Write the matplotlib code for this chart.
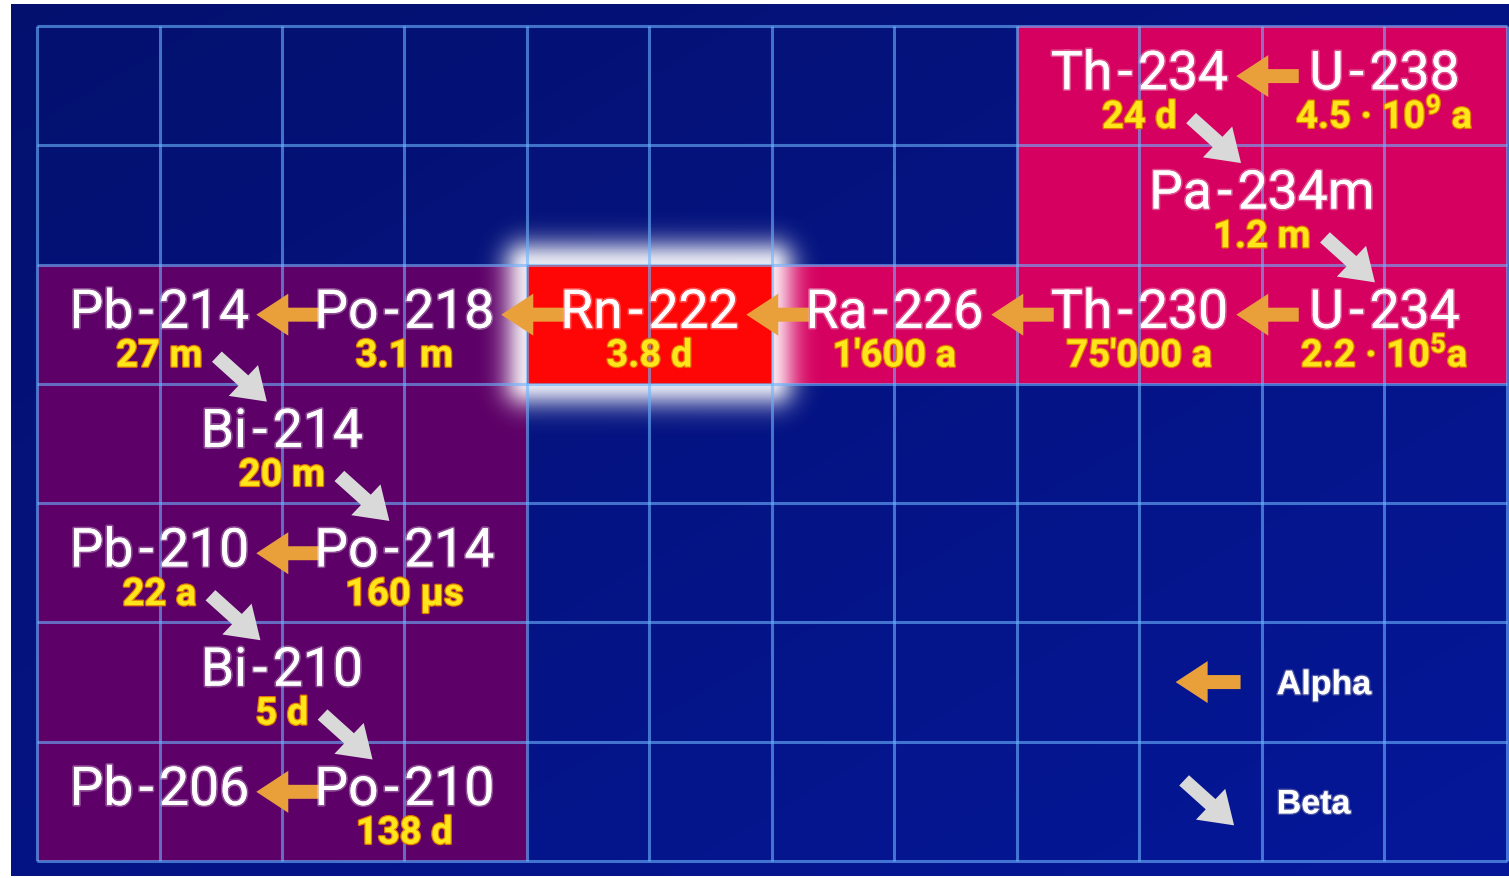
import numpy as np
import matplotlib.pyplot as plt
import matplotlib.patches as mpatches
import matplotlib.patheffects as pe

plt.rcParams['mathtext.default'] = 'regular'

# szereg uranowo-radowy: nuklid, czas polowicznego rozpadu, linia siatki (Z - 81), wiersz
nuklidy = ['U-238', 'Th-234', 'Pa-234m', 'U-234', 'Th-230', 'Ra-226', 'Rn-222',
           'Po-218', 'Pb-214', 'Bi-214', 'Po-214', 'Pb-210', 'Bi-210', 'Po-210', 'Pb-206']
polowice = ['4.5 · 10$^9$ a', '24 d', '1.2 m', '2.2 · 10$^5$a', "75'000 a", "1'600 a", '3.8 d',
            '3.1 m', '27 m', '20 m', '160 µs', '22 a', '5 d', '138 d', '']
kolumna = [11, 9, 10, 11, 9, 7, 5, 3, 1, 2, 3, 1, 2, 3, 1]
wiersz = [0, 0, 1, 2, 2, 2, 2, 2, 2, 3, 4, 4, 5, 6, 6]

legenda = ['Alpha', 'Beta']

n_kol, n_wier = 12, 7
px_x, px_y = 122.5, 119.3  # pikseli na jednostke

kol_roz = '#D5005F'
kol_fiol = '#5D0067'
kol_rn = '#FF0606'
kol_alfa = '#E9A03A'
kol_beta = '#D9D9D9'

fig = plt.figure(figsize=(15.09, 8.79), dpi=100)
fig.patch.set_facecolor('white')
ax = fig.add_axes([11 / 1509, 2 / 879, 1498 / 1509, 872 / 879])
ax.set_xlim(-26 / px_x, n_kol + 2 / px_x)
ax.set_ylim(n_wier + 15 / px_y, -22 / px_y)
ax.axis('off')

# tlo z lekkim winietowaniem
gx = np.linspace(0, 1, 200)
gy = np.linspace(0, 1, 120)
GX, GY = np.meshgrid(gx, gy)
jasnosc = 0.72 + 0.28 * (0.5 * GX + 0.5 * GY)
tlo = np.zeros(GX.shape + (3,))
tlo[..., 0] = 0.02 * jasnosc
tlo[..., 1] = 0.09 * jasnosc
tlo[..., 2] = 0.60 * jasnosc
ax.imshow(tlo, extent=(ax.get_xlim()[0], ax.get_xlim()[1], ax.get_ylim()[0], ax.get_ylim()[1]),
          origin='upper', aspect='auto', zorder=0, interpolation='bilinear')

# obszary kolorowe
obszary = [(8, 12, 0, 2, kol_roz), (6, 12, 2, 3, kol_roz), (0, 4, 2, 7, kol_fiol)]
for x0, x1, y0, y1, c in obszary:
    ax.add_patch(mpatches.Rectangle((x0, y0), x1 - x0, y1 - y0, color=c, lw=0, zorder=1))

# poswiata wokol Rn-222
rx0, rx1, ry0, ry1 = 4, 6, 2, 3
hx = np.linspace(rx0 - 0.6, rx1 + 0.6, 500)
hy = np.linspace(ry0 - 0.6, ry1 + 0.6, 300)
HX, HY = np.meshgrid(hx, hy)
dx = np.maximum(np.maximum(rx0 - HX, HX - rx1), 0) * px_x
dy = np.maximum(np.maximum(ry0 - HY, HY - ry1), 0) * px_y
d = np.hypot(dx, dy)
poswiata = np.ones(HX.shape + (4,))
poswiata[..., 3] = 0.9 * np.exp(-(d / 24) ** 2)
ax.imshow(poswiata, extent=(hx[0], hx[-1], hy[-1], hy[0]), origin='upper', aspect='auto',
          zorder=2, interpolation='bilinear')
ax.add_patch(mpatches.Rectangle((rx0, ry0), rx1 - rx0, ry1 - ry0, color=kol_rn, lw=0, zorder=3))

ax.set_xlim(-26 / px_x, n_kol + 2 / px_x)
ax.set_ylim(n_wier + 15 / px_y, -22 / px_y)

# siatka
ax.vlines(np.arange(n_kol + 1), 0, n_wier, color='#6AB4FF', lw=2.2, alpha=0.6, zorder=4)
ax.hlines(np.arange(n_wier + 1), 0, n_kol, color='#6AB4FF', lw=2.2, alpha=0.6, zorder=4)

# napisy
efekt_b = [pe.withStroke(linewidth=2.5, foreground=(1, 1, 1, 0.3))]
efekt_z = [pe.withStroke(linewidth=1.8, foreground='#E07800')]
teksty_hl = []
for i in range(len(nuklidy)):
    ax.text(kolumna[i], wiersz[i] + 0.5 + 0.03, nuklidy[i].replace('-', '\u200a-\u200a'),
            color='white', fontsize=38.5, family='Roboto', ha='center', va='baseline',
            path_effects=efekt_b, zorder=7)
    t = ax.text(kolumna[i], wiersz[i] + 0.5 + 0.355, polowice[i], color='#FFE51A',
                fontsize=27.5, family='Roboto', fontweight='bold', ha='center', va='baseline',
                path_effects=efekt_z, zorder=7)
    teksty_hl.append(t)

fig.canvas.draw()
renderer = fig.canvas.get_renderer()
odwr = ax.transData.inverted()


def strzalka(x, y, ddx, ddy, kolor):
    ax.add_patch(mpatches.FancyArrow(x, y, ddx, ddy, width=14 / px_y, head_width=42 / px_y,
                                     head_length=32 / px_x, length_includes_head=True,
                                     color=kolor, lw=0, zorder=6))


# rozpady: alfa -> dwie linie w lewo, beta -> jedna w prawo
for i in range(len(nuklidy) - 1):
    if kolumna[i + 1] - kolumna[i] == -2:
        y = wiersz[i] + 0.5 - 0.08
        strzalka(kolumna[i] - 0.70, y, -0.51, 0, kol_alfa)
    else:
        bb = teksty_hl[i].get_window_extent(renderer)
        xd, _ = odwr.transform((bb.x1 + 14, 0))
        yd = wiersz[i] + 0.5 + 0.23 + 5 / px_y
        strzalka(xd, yd, 50 / px_x, 45 / px_y, kol_beta)

# legenda
strzalka(9.56 + 0.265, 5.5, -0.53, 0, kol_alfa)
strzalka(9.56 - 24 / px_x, 6.5 - 21 / px_y, 50 / px_x, 45 / px_y, kol_beta)
efekt_l = [pe.withStroke(linewidth=2, foreground=(0.6, 0.6, 0.7, 0.5))]
for j, nazwa in enumerate(legenda):
    ax.text(10.12, 5.5 + j + 0.03, nazwa, color='white', fontsize=24.5, family='Liberation Sans',
            fontweight='bold', ha='left', va='center', path_effects=efekt_l, zorder=7)

fig.savefig('out.png', dpi=100, facecolor=fig.get_facecolor())
